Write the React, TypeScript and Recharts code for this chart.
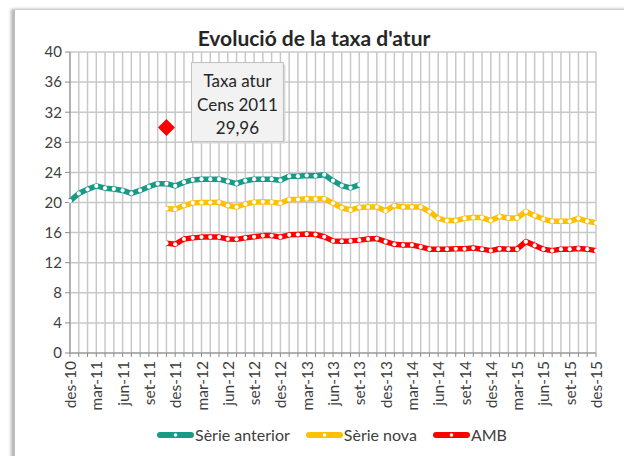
import React from 'react';
import { ComposedChart, Line, XAxis, YAxis, CartesianGrid } from 'recharts';

const months = [
  'des-10', 'gen-11', 'feb-11', 'mar-11', 'abr-11', 'mai-11', 'jun-11', 'jul-11', 'ago-11', 'set-11', 'oct-11', 'nov-11',
  'des-11', 'gen-12', 'feb-12', 'mar-12', 'abr-12', 'mai-12', 'jun-12', 'jul-12', 'ago-12', 'set-12', 'oct-12', 'nov-12',
  'des-12', 'gen-13', 'feb-13', 'mar-13', 'abr-13', 'mai-13', 'jun-13', 'jul-13', 'ago-13', 'set-13', 'oct-13', 'nov-13',
  'des-13', 'gen-14', 'feb-14', 'mar-14', 'abr-14', 'mai-14', 'jun-14', 'jul-14', 'ago-14', 'set-14', 'oct-14', 'nov-14',
  'des-14', 'gen-15', 'feb-15', 'mar-15', 'abr-15', 'mai-15', 'jun-15', 'jul-15', 'ago-15', 'set-15', 'oct-15', 'nov-15',
  'des-15',
];

const serieAnterior = [
  20.2, 21.2, 21.75, 22.2, 21.9, 21.8, 21.6, 21.2, 21.6, 22.1, 22.5, 22.5,
  22.2, 22.7, 23.0, 23.1, 23.1, 23.1, 22.8, 22.5, 22.9, 23.1, 23.1, 23.1,
  22.95, 23.5, 23.5, 23.6, 23.55, 23.7, 22.9, 22.25, 21.95, 22.35, null, null,
  null, null, null, null, null, null, null, null, null, null, null, null,
  null, null, null, null, null, null, null, null, null, null, null, null,
  null,
];

const serieNova = [
  null, null, null, null, null, null, null, null, null, null, null, 19.2,
  19.1, 19.6, 19.95, 20.0, 20.0, 20.05, 19.6, 19.4, 19.8, 20.05, 20.1, 20.05,
  19.9, 20.4, 20.4, 20.5, 20.45, 20.5, 19.9, 19.3, 19.0, 19.35, 19.4, 19.4,
  18.9, 19.6, 19.4, 19.4, 19.4, 18.8, 17.9, 17.6, 17.6, 17.9, 18.0, 18.0,
  17.6, 18.15, 17.95, 17.95, 18.8, 18.25, 17.8, 17.5, 17.5, 17.5, 17.9, 17.5,
  17.3,
];

const ambSeries = [
  null, null, null, null, null, null, null, null, null, null, null, 14.6,
  14.45, 15.15, 15.3, 15.4, 15.4, 15.4, 15.15, 15.1, 15.3, 15.45, 15.6, 15.6,
  15.4, 15.7, 15.75, 15.8, 15.75, 15.45, 14.9, 14.85, 14.9, 15.0, 15.15, 15.2,
  14.8, 14.45, 14.35, 14.35, 14.1, 13.8, 13.8, 13.8, 13.85, 13.85, 13.95, 13.8,
  13.6, 13.85, 13.8, 13.8, 14.8, 14.3, 13.8, 13.6, 13.8, 13.8, 13.9, 13.8,
  13.6,
];

const censMonth = 'nov-11';
const censValue = 29.96;
const censLines = ['Taxa atur', 'Cens 2011', '29,96'];

const yTicks = [0, 4, 8, 12, 16, 20, 24, 28, 32, 36, 40];

const seriesNames = ['Sèrie anterior', 'Sèrie nova', 'AMB'];
const seriesColors = ['#169B87', '#FFC000', '#FF0000'];

const data = months.map((m, i) => ({
  m,
  anterior: serieAnterior[i],
  nova: serieNova[i],
  amb: ambSeries[i],
  cens: m === censMonth ? censValue : null,
}));

const FONT = 'Lato, "Noto Sans", sans-serif';
const TEXT = '#404040';
const GRID = '#c8c8c8';
const AXIS = '#8c8c8c';

const XTick = (props: any) => {
  const { x, y, payload } = props;
  const idx = months.indexOf(payload.value);
  if (idx % 3 !== 0) return null;
  return (
    <text
      x={x}
      y={y + 2}
      transform={`rotate(-90 ${x} ${y + 2})`}
      textAnchor="end"
      dominantBaseline="central"
      fontSize={15.5}
      fontFamily={FONT}
      fill={TEXT}
    >
      {payload.value}
    </text>
  );
};

const CensDot = (props: any) => {
  const { cx, cy, value, index } = props;
  if (value == null || cx == null || cy == null) return null;
  const h = 8.5;
  const bx = cx + 25;
  const by = cy - 65;
  const bw = 92;
  const bh = 79;
  return (
    <g key={`cens-${index}`}>
      <polygon
        points={`${cx},${cy - h} ${cx + h},${cy} ${cx},${cy + h} ${cx - h},${cy}`}
        fill="#FF0000"
      />
      <rect x={bx + 2} y={by + 2} width={bw} height={bh} fill="#d9d9d9" />
      <rect x={bx} y={by} width={bw} height={bh} fill="#f2f2f2" stroke="#bfbfbf" strokeWidth={1} />
      {censLines.map((t, i) => (
        <text
          key={t}
          x={bx + bw / 2}
          y={by + 18 + i * 23.5}
          textAnchor="middle"
          dominantBaseline="central"
          fontSize={17}
          fontFamily={FONT}
          fill="#262626"
        >
          {t}
        </text>
      ))}
    </g>
  );
};

const LegendIcon = ({ color }: { color: string }) => (
  <svg width={37} height={8} style={{ display: 'block' }}>
    <rect x={0} y={1} width={37} height={6} rx={3} fill={color} />
    <circle cx={18.5} cy={4} r={1.8} fill="#fff" />
  </svg>
);

const dotStyle = { r: 2.1, fill: '#fff', stroke: 'none' };

export default function App() {
  return (
    <div
      style={{
        position: 'absolute',
        left: 0,
        top: 0,
        width: 624,
        height: 456,
        overflow: 'hidden',
        background: '#fff',
      }}
    >
      <div
        style={{
          position: 'absolute',
          left: 14,
          top: 9,
          width: 700,
          height: 600,
          borderTop: '1px solid #cfcfcf',
          borderLeft: '1px solid #bdbdbd',
          boxShadow: '-3px 0 3px #b5b5b5',
          background: '#fff',
        }}
      />
      <div
        style={{
          position: 'absolute',
          left: 0,
          top: 25,
          width: 628,
          textAlign: 'center',
          fontFamily: FONT,
          fontWeight: 700,
          fontSize: 21,
          color: '#262626',
          lineHeight: '26px',
        }}
      >
        Evolució de la taxa d'atur
      </div>
      <div style={{ position: 'absolute', left: 0, top: 0 }}>
        <ComposedChart
          width={624}
          height={456}
          data={data}
          margin={{ top: 52, right: 28, left: 30, bottom: 0 }}
        >
          <CartesianGrid stroke={GRID} strokeWidth={1.5} />
          <XAxis
            dataKey="m"
            interval={0}
            height={103}
            tick={<XTick />}
            tickLine={{ stroke: AXIS }}
            tickSize={4}
            axisLine={{ stroke: AXIS }}
            padding={{ left: 0, right: 0 }}
          />
          <YAxis
            domain={[0, 40]}
            ticks={yTicks}
            width={40}
            tickSize={5}
            tickMargin={3}
            tickLine={{ stroke: AXIS }}
            axisLine={{ stroke: AXIS }}
            tick={{ fontSize: 15, fontFamily: FONT, fill: TEXT }}
            allowDataOverflow
          />
          <Line
            dataKey="anterior"
            name={seriesNames[0]}
            stroke={seriesColors[0]}
            strokeWidth={5.5}
            strokeLinejoin="round"
            dot={dotStyle}
            activeDot={false}
            isAnimationActive={false}
          />
          <Line
            dataKey="nova"
            name={seriesNames[1]}
            stroke={seriesColors[1]}
            strokeWidth={5.5}
            strokeLinejoin="round"
            dot={dotStyle}
            activeDot={false}
            isAnimationActive={false}
          />
          <Line
            dataKey="amb"
            name={seriesNames[2]}
            stroke={seriesColors[2]}
            strokeWidth={5.5}
            strokeLinejoin="round"
            dot={dotStyle}
            activeDot={false}
            isAnimationActive={false}
          />
          <Line
            dataKey="cens"
            stroke="none"
            dot={<CensDot />}
            activeDot={false}
            isAnimationActive={false}
          />
        </ComposedChart>
      </div>
      <div
        style={{
          position: 'absolute',
          left: 40,
          top: 425,
          width: 584,
          display: 'flex',
          justifyContent: 'center',
          alignItems: 'center',
          fontFamily: FONT,
          fontSize: 16,
          color: TEXT,
        }}
      >
        {seriesNames.map((n, i) => (
          <div key={n} style={{ display: 'flex', alignItems: 'center', marginRight: i < 2 ? 16 : 0 }}>
            <LegendIcon color={seriesColors[i]} />
            <span style={{ marginLeft: 1 }}>{n}</span>
          </div>
        ))}
      </div>
    </div>
  );
}
